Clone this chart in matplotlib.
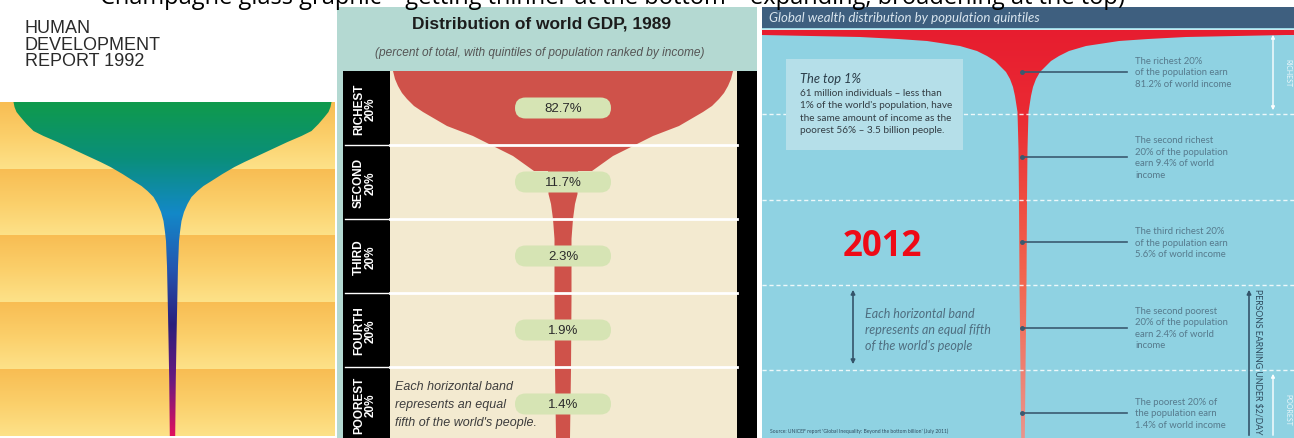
import matplotlib
matplotlib.use('agg')
import matplotlib.pyplot as plt
import numpy as np
from matplotlib import font_manager
from matplotlib.patches import Polygon, Rectangle, FancyBboxPatch
from matplotlib.colors import LinearSegmentedColormap

W, H = 1294, 439

names = {f.name for f in font_manager.fontManager.ttflist}
narrow = 'Liberation Sans Narrow' if 'Liberation Sans Narrow' in names else 'Liberation Sans'

caption = "Champagne glass graphic \u2013 getting thinner at the bottom \u2013 expanding, broadening at the top)"
hdr_title = ["HUMAN", "DEVELOPMENT", "REPORT 1992"]

quintiles = ['RICHEST', 'SECOND', 'THIRD', 'FOURTH', 'POOREST']
gdp_1989 = [82.7, 11.7, 2.3, 1.9, 1.4]
income_2012 = [81.2, 9.4, 5.6, 2.4, 1.4]

# HDR 1992 cover glass (px from top, half width)
hdr_y = [103, 108, 113, 118, 125, 132, 137, 143, 150, 157, 163, 168, 175, 182, 187, 192, 198, 205, 213, 222, 233, 242, 255, 267, 300, 340, 380, 437]
hdr_hw = [159, 158, 156, 152, 146, 139, 129, 115, 100, 85, 72, 62, 50, 39, 31, 25, 19, 15, 11.5, 9, 7.5, 6.5, 6, 5.5, 4.8, 4, 3.3, 2.7]

# 1989 glass
gdp_y = [72, 80, 87, 94, 100, 107, 113, 120, 127, 132, 137, 142, 147, 152, 157, 162, 167, 172, 172, 195, 205, 220, 240, 300, 370, 439]
gdp_hw = [170, 168, 165, 161, 156, 149, 140, 128, 116, 103, 90, 80, 70, 60, 50, 43, 36, 29, 15, 14.5, 12, 10, 8.5, 8.5, 8, 7]

# 2012 glass
inc_y = [36, 38, 40, 42, 47, 52, 57, 62, 67, 73, 80, 88, 97, 113, 150, 200, 285, 371, 439]
inc_hw = [263, 163, 125, 96, 63, 46, 36, 28, 23, 17, 13, 10, 8, 5.5, 4.5, 4, 3.5, 2.5, 1.8]

fig = plt.figure(figsize=(W / 100, H / 100), dpi=100)
ax = fig.add_axes([0, 0, 1, 1])
ax.axis('off')


def glass(cx, ys, hws):
    left = [(cx - w, y) for y, w in zip(ys, hws)]
    right = [(cx + w, y) for y, w in zip(ys, hws)][::-1]
    return left + right


def gradient(x0, x1, y0, y1, colors, clip=None, z=2):
    cmap = LinearSegmentedColormap.from_list('g', colors)
    im = ax.imshow(np.linspace(0, 1, 256)[:, None], cmap=cmap, extent=[x0, x1, y1, y0],
                   aspect='auto', zorder=z, interpolation='bilinear')
    if clip is not None:
        im.set_clip_path(clip)
    return im


ax.text(100, 3.5, caption, fontsize=17, family='Open Sans', va='baseline', ha='left', color='black')

# ---------------- panel 1 ----------------
band1 = np.linspace(103, 437, 6)
for i in range(5):
    gradient(0, 335, band1[i], band1[i + 1], ['#f8bd53', '#fbcf6a', '#fde289'], z=1)
ax.text(25, 45, "\n".join(hdr_title), fontsize=13, family='Liberation Sans', va='center', ha='left',
        color='#2a2a2a', linespacing=0.95)
p1 = Polygon(glass(172.5, hdr_y, hdr_hw), closed=True, fc='none', ec='none')
ax.add_patch(p1)
gradient(0, 335, 103, 437, ['#0f9a4c', '#0a8f7a', '#1388c8', '#2456b0', '#2c1f7c', '#6a1a80', '#e0115e'], clip=p1)

# ---------------- panel 2 ----------------
ax.add_patch(Rectangle((337, 8), 420, H - 8, fc='#b4d9d2', ec='none', zorder=1))
ax.add_patch(Rectangle((390, 72), 347, H - 72, fc='#f3ead0', ec='none', zorder=1))
ax.add_patch(Rectangle((343, 72), 47, H - 72, fc='black', ec='none', zorder=1))
ax.add_patch(Rectangle((737, 72), 20, H - 72, fc='black', ec='none', zorder=1))
ax.text(541, 24, "Distribution of world GDP, 1989", fontsize=12.5, family=narrow,
        weight='bold', ha='center', va='center', color='#1c1c1c')
ax.text(540, 53, "(percent of total, with quintiles of population ranked by income)", fontsize=8.6,
        family=narrow, style='italic', ha='center', va='center', color='#555555')
ax.add_patch(Polygon(glass(563, gdp_y, gdp_hw), closed=True, fc='#cf524a', ec='none', zorder=2))
band2 = np.linspace(72, 442, 6)
for yb in band2[1:5]:
    ax.plot([390, 737], [yb, yb], color='white', lw=2, zorder=3)
    ax.plot([345, 388], [yb, yb], color='white', lw=1, zorder=3)
for i, (q, v) in enumerate(zip(quintiles, gdp_1989)):
    yc = (band2[i] + band2[i + 1]) / 2
    ax.add_patch(FancyBboxPatch((520, yc - 5.5), 86, 11, boxstyle='round,pad=5,rounding_size=10.5',
                                fc='#d6e4b4', ec='none', zorder=4))
    ax.text(563, yc, f"{v}%", fontsize=9.5, family=narrow, ha='center', va='center',
            color='#2b2b2b', zorder=5)
    ax.text(365, yc, f"{q}\n20%", fontsize=8.5, family=narrow, weight='bold',
            rotation=90, ha='center', va='center', color='white', linespacing=1.0, zorder=5)
ax.text(395, 405, "Each horizontal band\nrepresents an equal\nfifth of the world's people.", fontsize=9,
        family=narrow, style='italic', ha='left', va='center', color='#3d3d3d',
        linespacing=1.65, zorder=5)

# ---------------- panel 3 ----------------
ax.add_patch(Rectangle((762, 29), W - 762, H - 29, fc='#8fd2e2', ec='none', zorder=1))
ax.add_patch(Rectangle((762, 8), W - 762, 21, fc='#3e5f7f', ec='none', zorder=1))
ax.plot([762, W], [30, 30], color='#c8e8ef', lw=1, zorder=2)
ax.text(769, 18, "Global wealth distribution by population quintiles", fontsize=9.5, family='Lato',
        style='italic', ha='left', va='center', color='#d9e5ee', zorder=3)
pts = [(762, 31), (W, 31), (W, 36)] + [(min(W, 1023 + w), y) for y, w in zip(inc_y, inc_hw)] + \
      [(max(762, 1023 - w), y) for y, w in zip(inc_y, inc_hw)][::-1] + [(762, 36)]
p3 = Polygon(pts, closed=True, fc='none', ec='none')
ax.add_patch(p3)
gradient(762, W, 31, H, ['#e71d2f', '#ea2a33', '#ee4a40', '#f2654f', '#ef7c6c', '#e9958c'], clip=p3, z=2)

band3 = 30 + 85.3 * np.arange(6)
for yb in band3[1:5]:
    ax.plot([762, W], [yb, yb], color='white', lw=1, ls=(0, (3, 2)), alpha=0.85, zorder=3)

notes = [
    "The richest 20%\nof the population earn\n{}% of world income",
    "The second richest\n20% of the population\nearn {}% of world\nincome",
    "The third richest 20%\nof the population earn\n{}% of world income",
    "The second poorest\n20% of the population\nearn {}% of world\nincome",
    "The poorest 20% of\nthe population earn\n{}% of world income",
]
for i, (n, v) in enumerate(zip(notes, income_2012)):
    yc = (band3[i] + band3[i + 1]) / 2
    ax.plot([1022, 1127], [yc, yc], color='#3a5a70', lw=1.2, zorder=4)
    ax.plot([1022], [yc], 'o', color='#3a5a70', ms=2.5, zorder=4)
    ax.text(1135, yc, n.format(v), fontsize=6.8, family='Lato', ha='left', va='center',
            color='#567a8c', linespacing=1.35, zorder=4)

ax.add_patch(Rectangle((786, 60), 177, 91, fc='#b5dfe9', ec='none', zorder=3))
ax.text(800, 79, "The top 1%", fontsize=9.3, family='Lato', style='italic', ha='left', va='center',
        color='#2a3c48', zorder=4)
ax.text(800, 112, "61 million individuals \u2013 less than\n1% of the world's population, have\n"
        "the same amount of income as the\npoorest 56% \u2013 3.5 billion people.",
        fontsize=7.2, family='Lato', ha='left', va='center', color='#333d44', linespacing=1.45, zorder=4)

ax.text(882, 247, "2012", fontsize=25, family='Open Sans', weight='bold', ha='center', va='center',
        color='#ee0a16', zorder=4)

ax.annotate('', xy=(853, 288), xytext=(853, 368),
            arrowprops=dict(arrowstyle='<|-|>', color='#34546a', lw=1.2, mutation_scale=6), zorder=4)
ax.text(865, 330, "Each horizontal band\nrepresents an equal fifth\nof the world's people", fontsize=9,
        family='Lato', style='italic', ha='left', va='center', color='#4f6e80', linespacing=1.4, zorder=4)

ax.annotate('', xy=(1273, 33), xytext=(1273, 114),
            arrowprops=dict(arrowstyle='<|-|>', color='white', lw=1, mutation_scale=5), zorder=4)
ax.text(1288, 73, "RICHEST", fontsize=5, family='Lato', rotation=270, ha='center', va='center',
        color='#eef7fa', zorder=4)
ax.annotate('', xy=(1249, 288), xytext=(1249, H),
            arrowprops=dict(arrowstyle='-|>', color='#34546a', lw=1.2, mutation_scale=6), zorder=4)
ax.text(1258, 362, "PERSONS EARNING UNDER $2/DAY", fontsize=6.3, family='Lato', rotation=270,
        ha='center', va='center', color='#2e4b5e', zorder=4)
ax.annotate('', xy=(1273, 372), xytext=(1273, H),
            arrowprops=dict(arrowstyle='-|>', color='white', lw=1, mutation_scale=5), zorder=4)
ax.text(1288, 410, "POOREST", fontsize=5, family='Lato', rotation=270, ha='center', va='center',
        color='#eef7fa', zorder=4)
ax.text(770, 431, "Source: UNICEF report 'Global Inequality: Beyond the bottom billion' (July 2011)",
        fontsize=3.6, family='Lato', ha='left', va='center', color='#2e4b5e', zorder=4)

ax.set_xlim(0, W)
ax.set_ylim(H, 0)
fig.savefig('out.png', dpi=100)
